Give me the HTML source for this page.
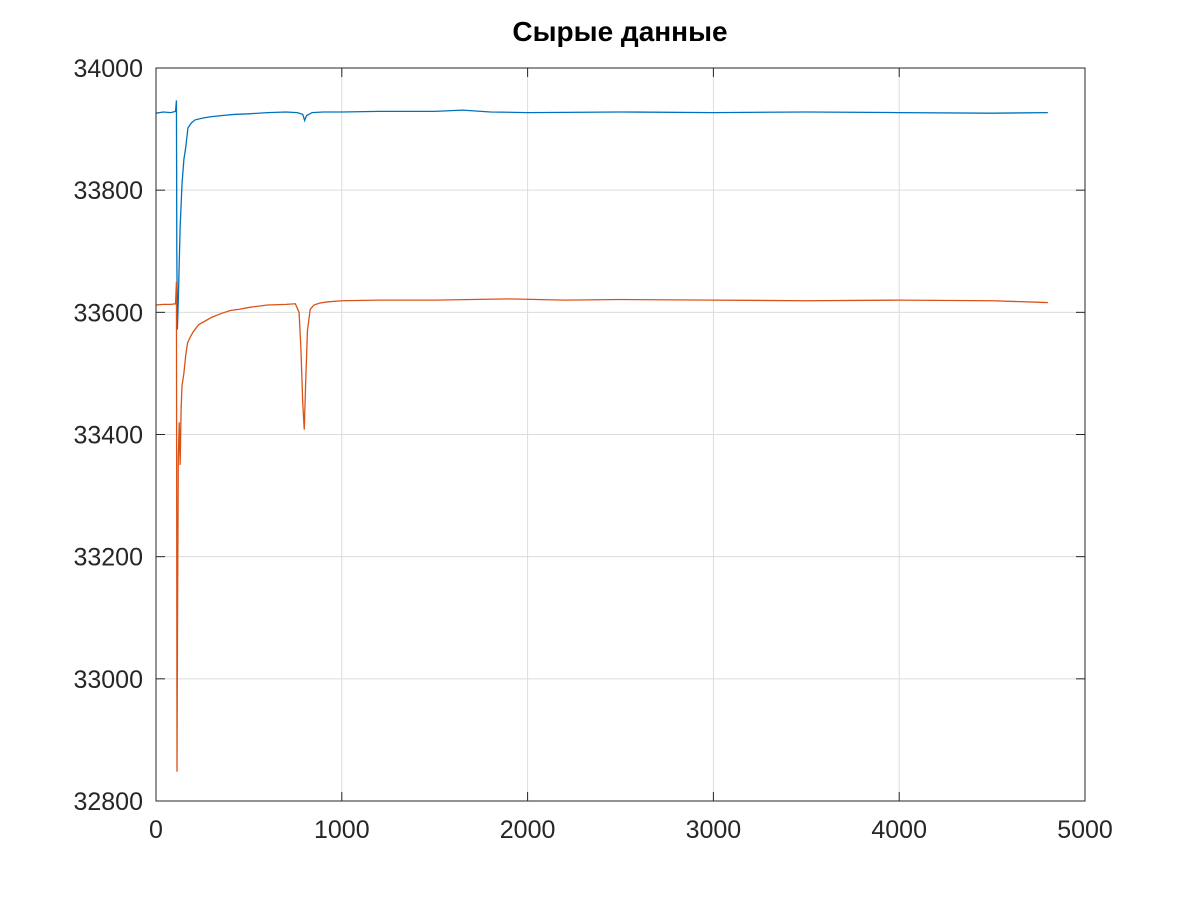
<!DOCTYPE html>
<html><head><meta charset="utf-8"><style>
body{margin:0;background:#fff;}
svg text{font-family:"Liberation Sans",sans-serif;}
</style></head><body>
<svg id="chart" width="1200" height="900">
<rect width="1200" height="900" fill="#fff"/>
<text x="620" y="41" text-anchor="middle" font-size="28" font-weight="bold" fill="#000">Сырые данные</text>
<g id="grid"></g>
<g id="series"></g>
<rect x="156" y="68" width="929" height="733" fill="none" stroke="#262626" stroke-width="1"/>
<g id="ticks"></g>
</svg>
<script>
const xTicks=[0,1000,2000,3000,4000,5000];
const yTicks=[32800,33000,33200,33400,33600,33800,34000];
const blueX=[0,40,80,105,110,112,115,120,130,140,150,160,172,190,210,250,290,350,420,500,600,700,760,790,800,810,840,900,1000,1200,1500,1650,1800,2000,2500,3000,3500,4000,4500,4800];
const blueY=[33926,33928,33927,33929,33947,33700,33572,33620,33740,33810,33850,33870,33902,33910,33915,33918,33920,33922,33924,33925,33927,33928,33927,33924,33914,33922,33927,33928,33928,33929,33929,33931,33928,33927,33928,33927,33928,33927,33926,33927];
const orangeX=[0,40,80,105,110,113,116,120,125,130,135,140,150,160,170,185,200,230,260,300,350,400,450,500,600,700,750,770,780,790,798,805,815,830,850,880,920,1000,1200,1500,1700,1900,2200,2500,3000,3500,4000,4500,4800];
const orangeY=[33612,33613,33613,33614,33650,32848,33100,33360,33420,33350,33440,33480,33500,33530,33550,33560,33568,33580,33585,33592,33598,33603,33605,33608,33612,33613,33614,33600,33540,33450,33408,33480,33570,33605,33612,33615,33617,33619,33620,33620,33621,33622,33620,33621,33620,33619,33620,33619,33616];
const X=v=>156+(v-0)/5000*929;
const Y=v=>801-(v-32800)/1200*733;
const NS="http://www.w3.org/2000/svg";
const grid=document.getElementById('grid'),ticks=document.getElementById('ticks'),series=document.getElementById('series');
function mk(tag,attrs,parent){const e=document.createElementNS(NS,tag);for(const k in attrs)e.setAttribute(k,attrs[k]);parent.appendChild(e);return e;}
xTicks.forEach(t=>{
 const x=X(t);
 if(t>0&&t<5000){const g=mk('line',{x1:x,x2:x,y1:68,y2:801,stroke:'#dcdcdc','stroke-width':1},grid);
 
 }
 mk('line',{x1:x,x2:x,y1:801,y2:792,stroke:'#262626'},ticks);
 mk('line',{x1:x,x2:x,y1:68,y2:77,stroke:'#262626'},ticks);
 const l=mk('text',{x:x,y:838,'text-anchor':'middle','font-size':25,fill:'#262626'},ticks);l.textContent=t;
 
 
});
yTicks.forEach(t=>{
 const y=Y(t);
 if(t>32800&&t<34000){const g=mk('line',{x1:156,x2:1085,y1:y,y2:y,stroke:'#dcdcdc','stroke-width':1},grid);
 
 }
 mk('line',{x1:156,x2:165,y1:y,y2:y,stroke:'#262626'},ticks);
 mk('line',{x1:1076,x2:1085,y1:y,y2:y,stroke:'#262626'},ticks);
 const l=mk('text',{x:143,y:y+9,'text-anchor':'end','font-size':25,fill:'#262626'},ticks);l.textContent=t;
 
 
});
function line(xs,ys,color,name){
 const d=xs.map((v,i)=>(i?'L':'M')+X(v).toFixed(2)+','+Y(ys[i]).toFixed(2)).join('');
 const p=mk('path',{d:d,fill:'none',stroke:color,'stroke-width':1.3},series);
 
 
}
line(blueX,blueY,'#0072bd','series-blue');
line(orangeX,orangeY,'#d95319','series-orange');
</script>
</body></html>
